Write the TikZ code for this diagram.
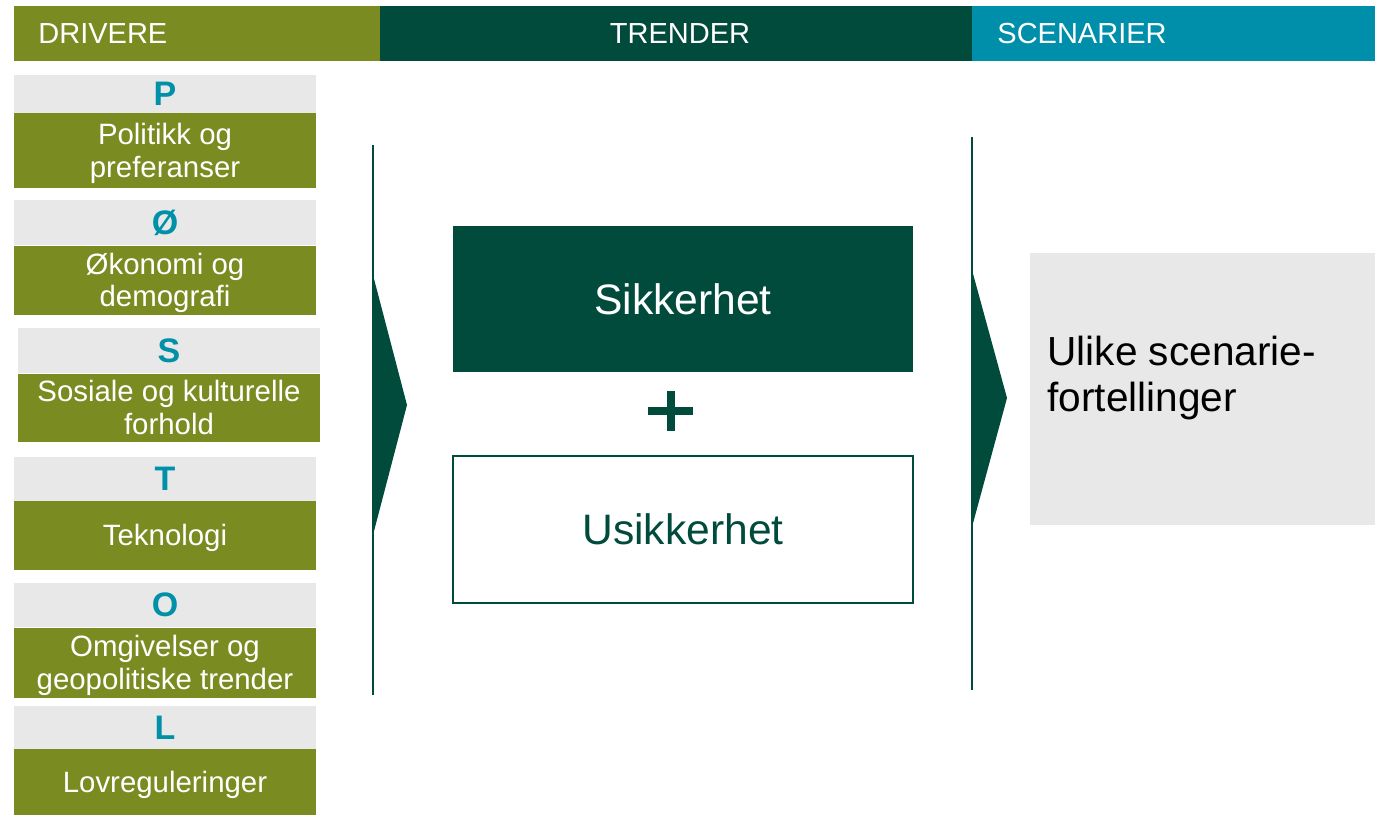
\documentclass[tikz,border=0pt]{standalone}
\usepackage{fontspec}
\setmainfont{Liberation Sans}
\definecolor{drvgreen}{HTML}{7A8C21}
\definecolor{darkgr}{HTML}{004B3C}
\definecolor{scteal}{HTML}{008FAA}
\definecolor{letterteal}{HTML}{0090A8}
\definecolor{lightgr}{HTML}{E8E8E8}
\begin{document}
\begin{tikzpicture}[x=0.5pt,y=-0.5pt,
  hdr/.style={rectangle, inner sep=0pt, minimum height=27.5pt},
  hdrtxt/.style={text=white, font=\fontsize{14.5}{17}\selectfont, inner sep=0pt},
  letterbox/.style={fill=lightgr, inner sep=0pt, minimum width=151pt, text=letterteal, font=\fontsize{17}{20}\selectfont\bfseries},
  namebox/.style={fill=drvgreen, inner sep=0pt, minimum width=151pt, text=white, align=center, text depth=0pt, font=\fontsize{14.7}{16.3}\selectfont},
  divider/.style={draw=darkgr, line width=1pt},
  chevron/.style={fill=darkgr},
]
\useasboundingbox (0,0) rectangle (1382,815);

% header
\node[hdr, fill=drvgreen, minimum width=183pt] (hd) at (197,33.5) {};
\node[hdrtxt, anchor=west] (hdt) at (38,33.5) {DRIVERE};
\node[hdr, fill=darkgr, minimum width=296pt] (ht) at (676,33.5) {};
\node[hdrtxt] (htt) at (680,33.5) {TRENDER};
\node[hdr, fill=scteal, minimum width=201.5pt] (hs) at (1173.5,33.5) {};
\node[hdrtxt, anchor=west] (hst) at (997,33.5) {SCENARIER};

% drivers
\node[letterbox, minimum height=19pt] (lp) at (165,94) {P};
\node[namebox, minimum height=37.5pt] (np) at (165,150.5) {Politikk og\\preferanser};

\node[letterbox, minimum height=22.5pt] (lo) at (165,222.5) {Ø};
\node[namebox, minimum height=34.5pt] (no) at (165,280) {Økonomi og\\demografi};

\node[letterbox, minimum height=22.5pt] (ls) at (169,350.5) {S};
\node[namebox, minimum height=34pt] (ns) at (169,407.5) {Sosiale og kulturelle\\forhold};

\node[letterbox, minimum height=22pt] (lt) at (165,478.5) {T};
\node[namebox, minimum height=34.5pt] (nt) at (165,535) {Teknologi};

\node[letterbox, minimum height=22pt] (lom) at (165,605) {O};
\node[namebox, minimum height=35pt] (nom) at (165,662.5) {Omgivelser og\\geopolitiske trender};

\node[letterbox, minimum height=22pt] (ll) at (165,727.5) {L};
\node[namebox, minimum height=33pt] (nl) at (165,782) {Lovreguleringer};

% dividers and chevrons
\draw[divider] (373,145) -- (373,695);
\fill[chevron] (373,275) -- (407,405) -- (373,535) -- cycle;
\draw[divider] (972,137) -- (972,690);
\fill[chevron] (972,270) -- (1007,398) -- (972,527) -- cycle;

% trends
\node[fill=darkgr, inner sep=0pt, minimum width=230pt, minimum height=73pt, text=white, font=\fontsize{21.3}{25}\selectfont] (sik) at (683,299) {Sikkerhet};
\draw[darkgr, line width=4pt] (648,411) -- (693,411);
\draw[darkgr, line width=4pt] (670.5,391) -- (670.5,431);
\node[draw=darkgr, line width=1pt, fill=white, inner sep=0pt, minimum width=230pt, minimum height=73.5pt, text=darkgr, font=\fontsize{21.3}{25}\selectfont] (usik) at (683,529) {Usikkerhet};

% scenarios
\node[fill=lightgr, inner sep=0pt, minimum width=172.5pt, minimum height=136pt] (ulbox) at (1202.5,389) {};
\node[anchor=north west, align=left, inner sep=0pt, font=\fontsize{20.3}{23}\selectfont] (ultxt) at (1047,336) {Ulike scenarie-\\fortellinger};
\end{tikzpicture}
\end{document}
